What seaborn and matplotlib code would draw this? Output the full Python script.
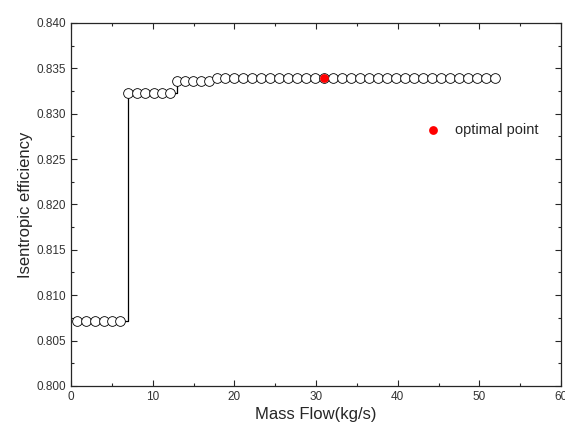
import matplotlib
matplotlib.use("Agg")
import matplotlib.pyplot as plt
import seaborn as sns
import pandas as pd
from matplotlib.ticker import MultipleLocator

sns.set_style("ticks")
plt.rcParams['font.family'] = ['Liberation Sans', 'DejaVu Sans']

# === 数据 ===
mass_flow = [0.7, 1.8, 2.9, 4.0, 5.0, 6.0,
             6.9, 8.0, 9.1, 10.1, 11.1, 12.1,
             12.9, 13.9, 14.9, 15.9, 16.9,
             17.8, 18.9, 20.0, 21.1, 22.2, 23.3, 24.4, 25.5, 26.6, 27.7,
             28.8, 29.9, 31.0, 32.1, 33.2, 34.3, 35.4, 36.5, 37.6, 38.7,
             39.8, 40.9, 42.0, 43.1, 44.2, 45.3, 46.4, 47.5, 48.6, 49.7,
             50.8, 51.9]
efficiency = [0.8072] * 6 + [0.8323] * 6 + [0.8336] * 5 + [0.8339] * 32
opt_flow = [31.0]
opt_eff = [0.8339]

df = pd.DataFrame({"flow": mass_flow, "eff": efficiency})

fig = plt.figure(figsize=(5.65, 4.25), dpi=100)
ax = fig.add_axes([0.126, 0.092, 0.867, 0.854])

# 阶梯线 + 空心圆
sns.lineplot(data=df, x="flow", y="eff", ax=ax, color="black", lw=0.9,
             drawstyle="steps-post", sort=False, zorder=1)
ax.plot(df["flow"], df["eff"], ls="none", marker="o", ms=7,
        mfc="white", mec="black", mew=0.6, zorder=2)
sns.scatterplot(x=opt_flow, y=opt_eff, ax=ax, color="red", s=40,
                edgecolor="red", linewidth=0, zorder=3, label="optimal point")

ax.set_xlim(0, 60)
ax.set_ylim(0.800, 0.840)
ax.xaxis.set_major_locator(MultipleLocator(10))
ax.xaxis.set_minor_locator(MultipleLocator(5))
ax.yaxis.set_major_locator(MultipleLocator(0.005))
ax.yaxis.set_minor_locator(MultipleLocator(0.0025))
ax.yaxis.set_major_formatter(matplotlib.ticker.FormatStrFormatter("%.3f"))
ax.tick_params(which="both", direction="in", top=True, right=True,
               labelsize=8.5, labelcolor="#333333", width=0.8)
ax.tick_params(which="major", length=4)
ax.tick_params(which="minor", length=2.5)
for sp in ax.spines.values():
    sp.set_linewidth(0.9)

ax.set_xlabel("Mass Flow(kg/s)", fontsize=12, labelpad=3)
ax.set_ylabel("Isentropic efficiency", fontsize=12, labelpad=3)

ax.legend(loc="center left", bbox_to_anchor=(0.682, 0.705), frameon=False,
          fontsize=10.5, handletextpad=0.5, markerscale=1.0)

fig.savefig("out.png", dpi=100)
